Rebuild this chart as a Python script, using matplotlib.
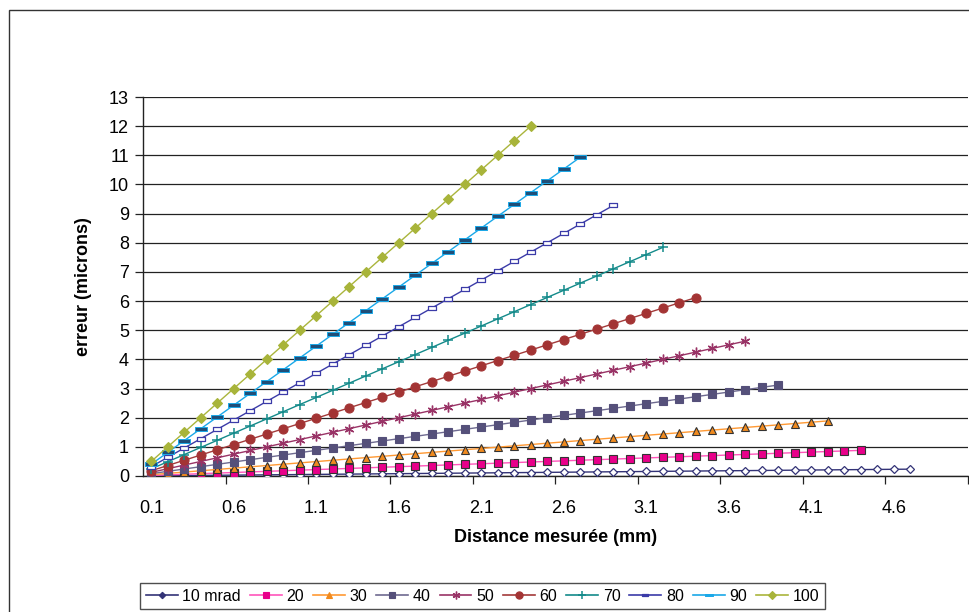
import matplotlib
matplotlib.use("Agg")
import matplotlib.pyplot as plt
from matplotlib.lines import Line2D
from matplotlib.patches import Rectangle
from matplotlib.path import Path

plt.rcParams['font.family'] = ['Liberation Sans', 'DejaVu Sans']

# Measured distance categories (mm)
distances = [round(0.1 * k, 1) for k in range(1, 51)]
tick_labels = ["0.1", "0.6", "1.1", "1.6", "2.1", "2.6", "3.1", "3.6", "4.1", "4.6"]

series_names = ["10 mrad", "20", "30", "40", "50", "60", "70", "80", "90", "100"]

s10 = [0.005, 0.01, 0.015, 0.02, 0.025, 0.03, 0.035, 0.04, 0.045, 0.05,
       0.055, 0.06, 0.065, 0.07, 0.075, 0.08, 0.085, 0.09, 0.095, 0.1,
       0.105, 0.11, 0.115, 0.12, 0.125, 0.13, 0.135, 0.14, 0.145, 0.15,
       0.155, 0.16, 0.165, 0.17, 0.175, 0.18, 0.185, 0.19, 0.195, 0.2,
       0.205, 0.21, 0.215, 0.22, 0.225, 0.23, 0.235]
s20 = [0.02, 0.04, 0.06, 0.08, 0.1, 0.12, 0.14, 0.16, 0.18, 0.2,
       0.22, 0.24, 0.26, 0.28, 0.3, 0.32, 0.34, 0.36, 0.38, 0.4,
       0.42, 0.44, 0.46, 0.48, 0.5, 0.52, 0.54, 0.56, 0.58, 0.6,
       0.62, 0.64, 0.66, 0.68, 0.7, 0.72, 0.74, 0.76, 0.78, 0.8,
       0.82, 0.84, 0.86, 0.88]
s30 = [0.045, 0.09, 0.135, 0.18, 0.225, 0.27, 0.315, 0.36, 0.405, 0.45,
       0.495, 0.54, 0.585, 0.63, 0.675, 0.72, 0.765, 0.81, 0.855, 0.9,
       0.945, 0.99, 1.035, 1.08, 1.125, 1.17, 1.215, 1.26, 1.305, 1.35,
       1.395, 1.44, 1.485, 1.53, 1.575, 1.62, 1.665, 1.71, 1.755, 1.8,
       1.845, 1.89]
s40 = [0.08, 0.16, 0.24, 0.32, 0.4, 0.48, 0.56, 0.64, 0.72, 0.8,
       0.88, 0.96, 1.04, 1.12, 1.2, 1.28, 1.36, 1.44, 1.52, 1.6,
       1.68, 1.76, 1.84, 1.92, 2.0, 2.08, 2.16, 2.24, 2.32, 2.4,
       2.48, 2.56, 2.64, 2.72, 2.8, 2.88, 2.96, 3.04, 3.12]
s50 = [0.125, 0.25, 0.375, 0.5, 0.625, 0.75, 0.875, 1.0, 1.125, 1.25,
       1.375, 1.5, 1.625, 1.75, 1.875, 2.0, 2.125, 2.25, 2.375, 2.5,
       2.625, 2.75, 2.875, 3.0, 3.125, 3.25, 3.375, 3.5, 3.625, 3.75,
       3.875, 4.0, 4.125, 4.25, 4.375, 4.5, 4.625]
s60 = [0.18, 0.36, 0.54, 0.72, 0.9, 1.08, 1.26, 1.44, 1.62, 1.8,
       1.98, 2.16, 2.34, 2.52, 2.7, 2.88, 3.06, 3.24, 3.42, 3.6,
       3.78, 3.96, 4.14, 4.32, 4.5, 4.68, 4.86, 5.04, 5.22, 5.4,
       5.58, 5.76, 5.94, 6.12]
s70 = [0.245, 0.49, 0.735, 0.98, 1.225, 1.47, 1.715, 1.96, 2.205, 2.45,
       2.695, 2.94, 3.185, 3.43, 3.675, 3.92, 4.165, 4.41, 4.655, 4.9,
       5.145, 5.39, 5.635, 5.88, 6.125, 6.37, 6.615, 6.86, 7.105, 7.35,
       7.595, 7.84]
s80 = [0.32, 0.64, 0.96, 1.28, 1.6, 1.92, 2.24, 2.56, 2.88, 3.2,
       3.52, 3.84, 4.16, 4.48, 4.8, 5.12, 5.44, 5.76, 6.08, 6.4,
       6.72, 7.04, 7.36, 7.68, 8.0, 8.32, 8.64, 8.96, 9.28]
s90 = [0.405, 0.81, 1.215, 1.62, 2.025, 2.43, 2.835, 3.24, 3.645, 4.05,
       4.455, 4.86, 5.265, 5.67, 6.075, 6.48, 6.885, 7.29, 7.695, 8.1,
       8.505, 8.91, 9.315, 9.72, 10.125, 10.53, 10.935]
s100 = [0.5, 1.0, 1.5, 2.0, 2.5, 3.0, 3.5, 4.0, 4.5, 5.0,
        5.5, 6.0, 6.5, 7.0, 7.5, 8.0, 8.5, 9.0, 9.5, 10.0,
        10.5, 11.0, 11.5, 12.0]

all_series = [s10, s20, s30, s40, s50, s60, s70, s80, s90, s100]

# Flat rectangle markers (Excel "dash" style)
wide_rect = Path([(-1, -0.45), (1, -0.45), (1, 0.45), (-1, 0.45), (-1, -0.45)],
                 [Path.MOVETO, Path.LINETO, Path.LINETO, Path.LINETO, Path.CLOSEPOLY])
dash_rect = Path([(-1, -0.3), (1, -0.3), (1, 0.3), (-1, 0.3), (-1, -0.3)],
                 [Path.MOVETO, Path.LINETO, Path.LINETO, Path.LINETO, Path.CLOSEPOLY])

styles = [
    dict(color="#333377", marker="D", ms=4.0, mfc="white", mec="#333377", mew=0.9),
    dict(color="#FF55BB", marker="s", ms=5.3, mfc="#E8008A", mec="#333333", mew=0.8),
    dict(color="#FF9933", marker="^", ms=6.2, mfc="#F08A1E", mec="#333333", mew=0.8),
    dict(color="#6E6A90", marker="s", ms=5.8, mfc="#55507A", mec="#55507A", mew=0.8),
    dict(color="#993366", marker=(6, 2, 0), ms=7.0, mfc="#993366", mec="#993366", mew=1.0),
    dict(color="#A33A3A", marker="o", ms=6.5, mfc="#A33434", mec="#A33434", mew=0.8),
    dict(color="#138A8A", marker="+", ms=7.5, mfc="#138A8A", mec="#138A8A", mew=1.1),
    dict(color="#3B3BA8", marker=wide_rect, ms=5.5, mfc="white", mec="#3B3BA8", mew=0.9),
    dict(color="#1AA8E8", marker=dash_rect, ms=8.0, mfc="#1F4E78", mec="#1AA8E8", mew=0.7),
    dict(color="#AAB53C", marker="D", ms=5.0, mfc="#A8B43A", mec="#A8B43A", mew=0.8),
]

W, H = 970, 612
fig = plt.figure(figsize=(W / 100, H / 100), dpi=100)
fig.patch.set_facecolor("white")

# Outer chart frame
fig.patches.append(Rectangle((9 / W, -0.05), 1.2, 1 - 10 / H + 0.05,
                             transform=fig.transFigure, fill=False,
                             edgecolor="#333333", linewidth=1.0))

left, right, top, bottom = 143, 968, 97, 476
ax = fig.add_axes([left / W, 1 - bottom / H, (right - left) / W, (bottom - top) / H])

for vals, st in zip(all_series, styles):
    xs = list(range(len(vals)))
    ax.plot(xs, vals, linewidth=1.0, color=st["color"], marker=st["marker"],
            markersize=st["ms"], markerfacecolor=st["mfc"],
            markeredgecolor=st["mec"], markeredgewidth=st["mew"], zorder=3)

ax.set_xlim(-0.5, len(distances) - 0.5)
ax.set_ylim(0, 13)

ax.set_yticks(range(0, 14))
ax.set_yticklabels([str(v) for v in range(0, 14)], fontsize=13)
ax.yaxis.grid(True, color="#222222", linewidth=0.9)
ax.set_axisbelow(True)
ax.tick_params(axis="y", length=6, width=0.9, pad=4, color="#222222")

label_pos = [distances.index(float(t)) for t in tick_labels]
ax.set_xticks(label_pos)
ax.set_xticklabels(tick_labels, fontsize=13)
ax.tick_params(axis="x", which="major", length=0, pad=17)
ax.set_xticks([p - 0.5 for p in label_pos[1:]] + [len(distances) - 0.5], minor=True)
ax.tick_params(axis="x", which="minor", length=6, width=0.9, color="#222222")

for s in ["top", "right"]:
    ax.spines[s].set_visible(False)
for s in ["left", "bottom"]:
    ax.spines[s].set_color("#222222")
    ax.spines[s].set_linewidth(1.0)

ax.set_xlabel("Distance mesurée (mm)", fontsize=13, fontweight="bold", labelpad=9)
ax.set_ylabel("erreur (microns)", fontsize=13, fontweight="bold", labelpad=12)

# Legend entries
handles = []
legend_faces = ["#333377", "#E8008A", "#F08A1E", "#55507A", "#993366",
                "#A33434", "#138A8A", "#3B3BA8", "#1AA8E8", "#A8B43A"]
for st, face, name in zip(styles, legend_faces, series_names):
    handles.append(Line2D([0], [0], color=st["color"], linewidth=1.2,
                          marker=st["marker"], markersize=st["ms"] * 0.8,
                          markerfacecolor=face, markeredgecolor=face,
                          markeredgewidth=st["mew"], label=name))
leg = fig.legend(handles=handles, loc="upper left",
                 bbox_to_anchor=(140 / W, 1 - 583 / H),
                 bbox_transform=fig.transFigure, ncol=10, fontsize=11.5,
                 frameon=True, fancybox=False, handlelength=2.0,
                 handletextpad=0.3, columnspacing=0.55, borderpad=0.35,
                 borderaxespad=0)
leg.get_frame().set_edgecolor("#222222")
leg.get_frame().set_linewidth(1.0)

fig.savefig("out.png", dpi=100, facecolor="white")
